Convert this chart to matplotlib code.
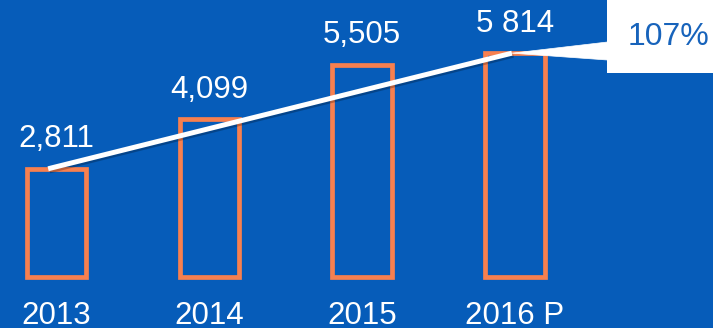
import matplotlib.pyplot as plt
import matplotlib.patheffects as pe
from matplotlib.patches import Polygon, Rectangle

# Revenue by year (2016 provisional)
years = ['2013', '2014', '2015', '2016 P']
values = [2811, 4099, 5505, 5814]
value_labels = ['2,811', '4,099', '5,505', '5 814']
growth_label = '107%'

BG = '#065cb9'
ORANGE = '#f7804f'

plt.rcParams['font.family'] = ['Liberation Sans', 'DejaVu Sans']

fig = plt.figure(figsize=(7.13, 3.28), dpi=100, facecolor=BG)
ax = fig.add_axes([0, 0, 1, 1], facecolor=BG)
ax.set_xlim(-0.37, 4.296)
ax.set_ylim(-1325, 7195)
ax.axis('off')

x = list(range(len(years)))

# hollow bars
ax.bar(x, values, width=0.39, facecolor='none', edgecolor=ORANGE,
       linewidth=3.4, zorder=2)

# value labels above the bars
for xi, v, lab in zip(x, values, value_labels):
    ax.annotate(lab, (xi, v), xytext=(0, 10.5), textcoords='offset points',
                ha='center', va='bottom', color='white', fontsize=22.5, zorder=5)

# year labels under the bars
for xi, yr in zip(x, years):
    ax.text(xi, -1230, yr, ha='center', va='baseline', color='white',
            fontsize=22.5, zorder=5)

# growth line from first to last bar
lx = [x[0] - 0.055, x[-1] - 0.02]
ly = [values[0], values[-1]]
ax.plot(lx, ly, color='white', linewidth=3.6, solid_capstyle='butt', zorder=4,
        path_effects=[pe.SimpleLineShadow(offset=(1, -1.5), shadow_color='black', alpha=0.25),
                      pe.Normal()])

# callout box with growth figure
to_data = ax.transData.inverted()
def frac(fx, fy):
    return to_data.transform(ax.transAxes.transform((fx, fy)))

box_left = 0.851
box_bottom = 1 - 73 / 328
ax.add_patch(Rectangle((box_left, box_bottom), 1 - box_left, 1 - box_bottom,
                       transform=ax.transAxes, facecolor='white',
                       edgecolor='none', zorder=6))
wedge = [(lx[1], ly[1]), tuple(frac(box_left + 0.001, 1 - 42 / 328)),
         tuple(frac(box_left + 0.001, 1 - 60 / 328))]
ax.add_patch(Polygon(wedge, closed=True, facecolor='white', edgecolor='white',
                     linewidth=0.5, zorder=6))
ax.text((box_left + 1) / 2 + 0.012, 1 - 37 / 328, growth_label,
        transform=ax.transAxes, ha='center', va='center',
        color='#1763bb', fontsize=23, zorder=7)

fig.savefig('out.png', dpi=100, facecolor=BG)
